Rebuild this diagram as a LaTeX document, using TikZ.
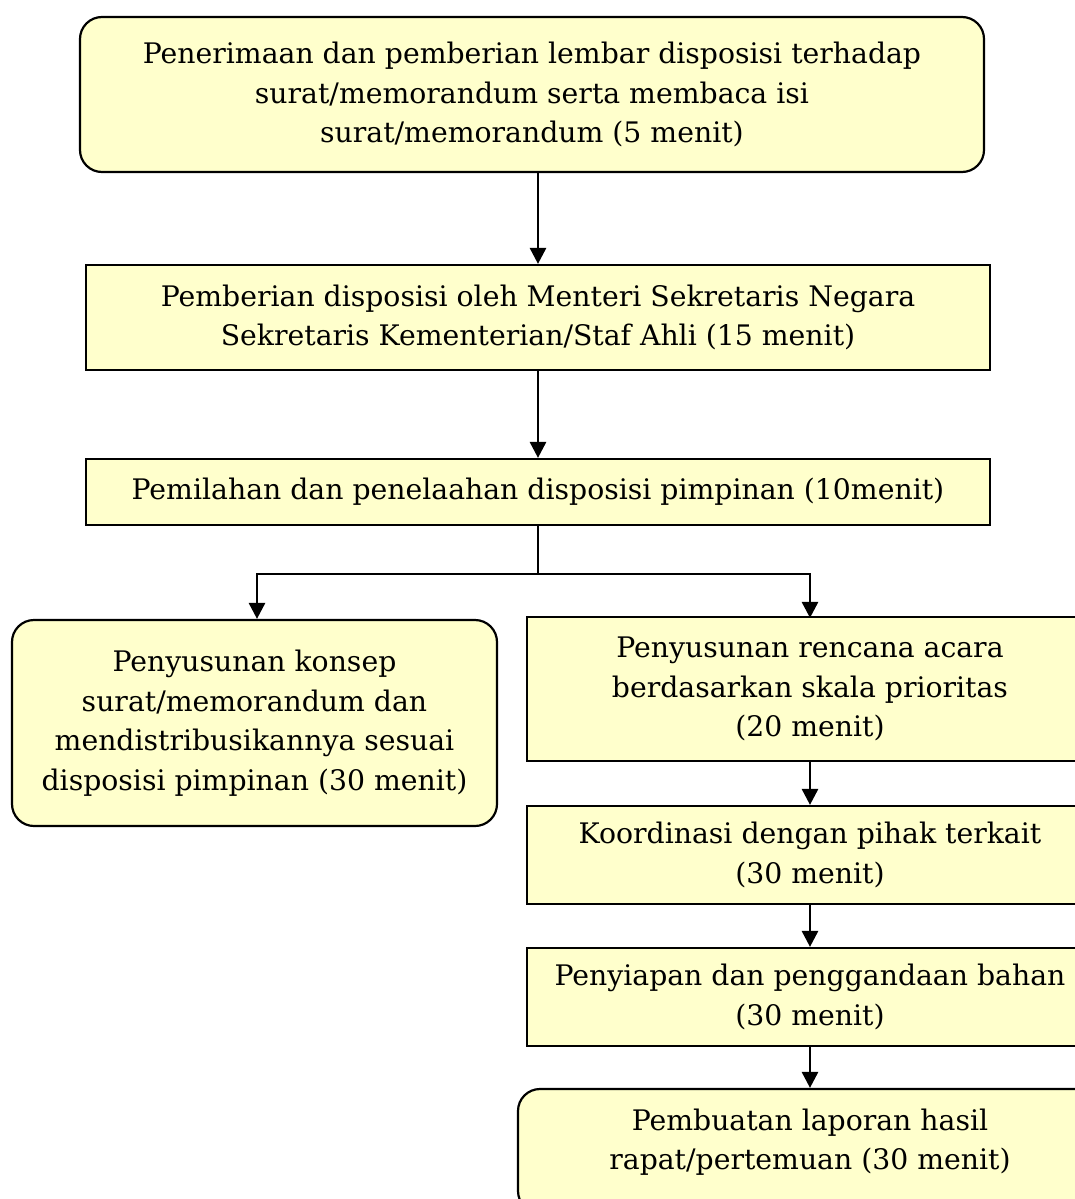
\documentclass[tikz,border=0pt]{standalone}
\usepackage{fontspec}
\setmainfont{DejaVu Serif}
\usetikzlibrary{arrows.meta}
\definecolor{boxfill}{HTML}{FFFFCC}
\tikzset{
  base/.style={draw=black, line width=2.2pt, fill=boxfill, inner sep=0pt, align=center,
    font=\fontsize{28.3}{39.5}\selectfont},
  sqbox/.style={base, rectangle},
  rndbox/.style={base, rectangle, rounded corners=22pt},
  txt/.style={inner sep=0pt, align=center, font=\fontsize{28.3}{39.5}\selectfont},
  conn/.style={line width=2.8pt, -{Triangle[width=16pt,length=16pt]}},
  plain/.style={line width=1.6pt}
}
\begin{document}
\begin{tikzpicture}[x=1pt,y=-1pt]
\useasboundingbox (0,0) rectangle (1075,1199);
\clip (0,0) rectangle (1075,1199);
\node[rndbox, minimum width=904pt, minimum height=155pt] (b1) at (532,94.5)
  {Penerimaan dan pemberian lembar disposisi terhadap\\surat/memorandum serta membaca isi\\surat/memorandum (5 menit)};
\node[sqbox, minimum width=904pt, minimum height=105pt] (b2) at (538,317.5)
  {Pemberian disposisi oleh Menteri Sekretaris Negara\\Sekretaris Kementerian/Staf Ahli (15 menit)};
\node[sqbox, minimum width=904pt, minimum height=66pt] (b3) at (538,492)
  {Pemilahan dan penelaahan disposisi pimpinan (10menit)};
\node[rndbox, minimum width=485pt, minimum height=206pt] (L) at (254.5,723)
  {Penyusunan konsep\\surat/memorandum dan\\mendistribusikannya sesuai\\disposisi pimpinan (30 menit)};
\node[sqbox, minimum width=566pt, minimum height=144pt] (r1) at (810,689)
  {Penyusunan rencana acara\\berdasarkan skala prioritas\\(20 menit)};
\node[sqbox, minimum width=566pt, minimum height=98pt] (r2) at (810,855)
  {Koordinasi dengan pihak terkait\\(30 menit)};
\node[sqbox, minimum width=566pt, minimum height=98pt] (r3) at (810,997)
  {Penyiapan dan penggandaan bahan\\(30 menit)};
\node[rndbox, minimum width=584pt, minimum height=124pt] (r4) at (810,1151) {};
\node[txt] (r4t) at (810,1142) {Pembuatan laporan hasil\\rapat/pertemuan (30 menit)};
\coordinate (split) at (538,574);
\draw[conn] (b1.south -| split) -- (b2.north -| split);
\draw[conn] (b2.south -| split) -- (b3.north -| split);
\draw[plain] (b3.south -| split) -- (split);
\draw[conn] (split) -| ([xshift=2.5pt]L.north);
\draw[conn] (split) -| ([yshift=-2pt]r1.north);
\draw[conn] (r1) -- (r2);
\draw[conn] (r2) -- (r3);
\draw[conn] (r3) -- (r4);
\end{tikzpicture}
\end{document}
